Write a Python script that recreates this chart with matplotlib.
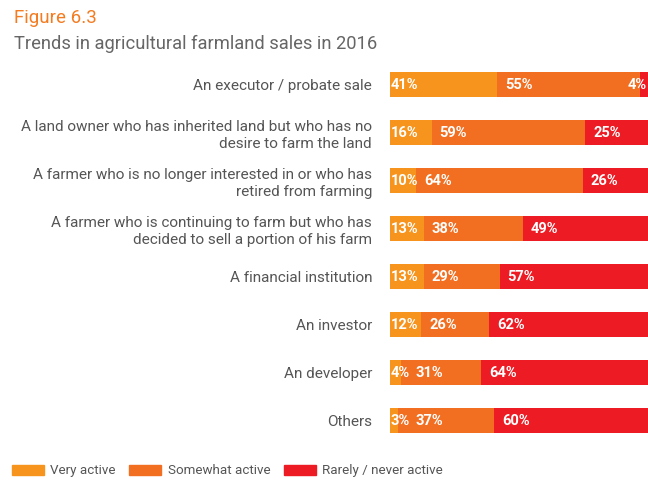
import matplotlib
matplotlib.use('Agg')
import matplotlib.pyplot as plt
from matplotlib.patches import Patch

plt.rcParams['font.family'] = ['Roboto', 'DejaVu Sans']

categories = [
    'An executor / probate sale',
    'A land owner who has inherited land but who has no\ndesire to farm the land',
    'A farmer who is no longer interested in or who has\nretired from farming',
    'A farmer who is continuing to farm but who has\ndecided to sell a portion of his farm',
    'A financial institution',
    'An investor',
    'An developer',
    'Others',
]
very_active = [41, 16, 10, 13, 13, 12, 4, 3]
somewhat_active = [55, 59, 64, 38, 29, 26, 31, 37]
rarely_active = [4, 25, 26, 49, 57, 62, 64, 60]

series_names = ['Very active', 'Somewhat active', 'Rarely / never active']
colors = ['#F7941D', '#F26F22', '#ED1C24']

fig = plt.figure(figsize=(6.48, 4.84), dpi=100)
ax = fig.add_axes([0.602, 0.081, 0.398, 0.793])
xmax = 99
ax.set_xlim(0, xmax)

y = list(range(len(categories)))
lefts = [0] * len(categories)
label_end = [None] * len(categories)   # keeps labels from running into each other
fig.canvas.draw()
renderer = fig.canvas.get_renderer()
px_per_unit = ax.bbox.width / xmax

for k, (vals, col) in enumerate(zip([very_active, somewhat_active, rarely_active], colors)):
    ax.barh(y, vals, left=lefts, height=0.52, color=col, edgecolor='none')
    pad = 0.3 if k == 0 else 3.0
    for yi, (l, v) in enumerate(zip(lefts, vals)):
        x = l + pad
        if label_end[yi] is not None:
            x = max(x, label_end[yi] + 5 / px_per_unit)
        t = ax.text(x, yi, f'{v}%', color='white', fontsize=10.5,
                    fontweight='bold', va='center', ha='left')
        w = t.get_window_extent(renderer).width / px_per_unit
        # keep the last label inside the picture
        if x + w > xmax - 1 / px_per_unit:
            x = xmax - 1 / px_per_unit - w
            t.set_x(x)
        label_end[yi] = x + w
    lefts = [a + b for a, b in zip(lefts, vals)]

ax.set_ylim(len(categories) - 0.5, -0.5)
ax.set_yticks(y)
ax.set_yticklabels(categories, fontsize=11, color='#555555')
ax.tick_params(axis='y', length=0, pad=13)
ax.set_xticks([])
for s in ax.spines.values():
    s.set_visible(False)

fig.text(0.022, 0.962, 'Figure 6.3', color='#F47B20', fontsize=13.5, va='center')
fig.text(0.022, 0.909, 'Trends in agricultural farmland sales in 2016',
         color='#666666', fontsize=13.2, va='center')

handles = [Patch(color=c) for c in colors]
fig.legend(handles, series_names, loc='center left', bbox_to_anchor=(0.018, 0.027),
           ncol=3, frameon=False, fontsize=9.6, handlelength=2.4, handleheight=0.75,
           columnspacing=1.0, handletextpad=0.5, borderpad=0, borderaxespad=0,
           labelcolor='#555555')

fig.savefig('out.png', dpi=100)
